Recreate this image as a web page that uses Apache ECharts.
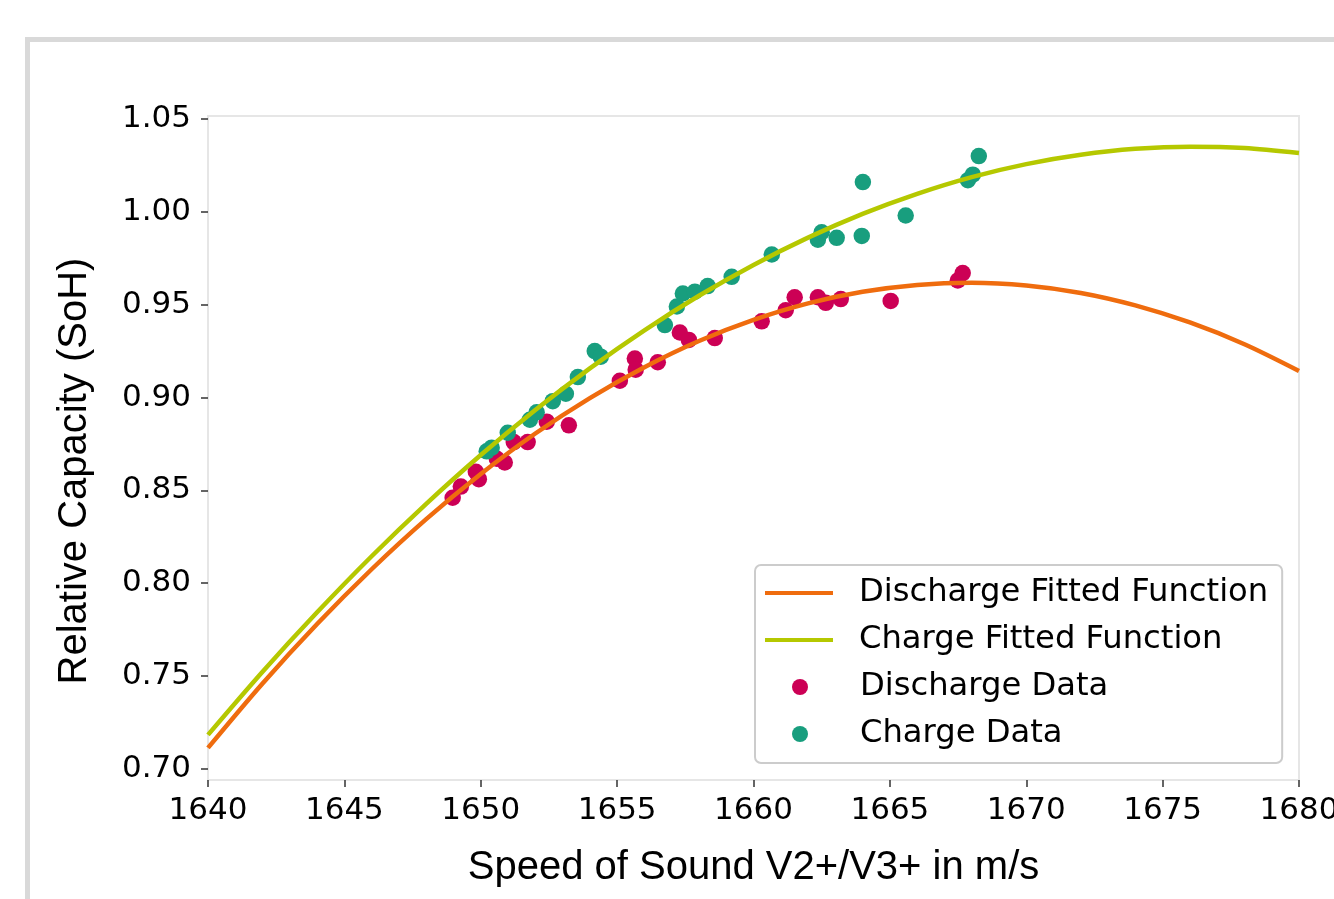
<!DOCTYPE html>
<html>
<head>
<meta charset="utf-8">
<script src="https://cdn.jsdelivr.net/npm/echarts@6/dist/echarts.min.js"></script>
<style>
html,body{margin:0;padding:0;background:#fff;}
#chart{width:1334px;height:899px;}
</style>
</head>
<body>
<div id="chart"></div>
<script>
// ---- data ----
var dischargeX = [1648.97,1649.27,1649.82,1649.93,1650.59,1650.88,1651.21,1651.72,1652.42,1653.23,1655.10,1655.65,1655.68,1656.49,1657.30,1657.63,1658.58,1660.30,1661.18,1661.51,1662.36,1662.65,1663.20,1665.03,1667.49,1667.67];
var dischargeY = [0.846,0.852,0.860,0.856,0.867,0.865,0.876,0.876,0.887,0.885,0.909,0.921,0.915,0.919,0.935,0.931,0.932,0.941,0.947,0.954,0.954,0.951,0.953,0.952,0.963,0.967];

var chargeX = [1650.22,1650.40,1650.99,1651.80,1652.05,1652.64,1653.12,1653.56,1654.18,1654.40,1656.75,1657.19,1657.41,1657.85,1658.32,1659.20,1660.67,1662.36,1662.50,1663.05,1663.97,1664.01,1665.58,1667.86,1668.04,1668.26];
var chargeY = [0.871,0.873,0.881,0.888,0.892,0.898,0.902,0.911,0.925,0.922,0.939,0.949,0.956,0.957,0.960,0.965,0.977,0.985,0.989,0.986,0.987,1.016,0.998,1.017,1.020,1.030];

var fitX = [1640,1642,1644,1646,1648,1650,1652,1654,1656,1658,1660,1662,1664,1666,1668,1670,1672,1674,1676,1678,1680];
var dischargeFitY = [0.7113,0.7460,0.7780,0.8075,0.8345,0.8588,0.8806,0.8997,0.9163,0.9304,0.9418,0.9507,0.9569,0.9606,0.9618,0.9603,0.9563,0.9496,0.9404,0.9287,0.9143];
var chargeFitY = [0.7183,0.7523,0.7843,0.8145,0.8427,0.8690,0.8933,0.9157,0.9362,0.9548,0.9714,0.9861,0.9989,1.0097,1.0187,1.0257,1.0307,1.0339,1.0351,1.0344,1.0317];

var xTickValues = [1640,1645,1650,1655,1660,1665,1670,1675,1680];
var yTickValues = [0.70,0.75,0.80,0.85,0.90,0.95,1.00,1.05];
var seriesNames = ['Discharge Fitted Function','Charge Fitted Function','Discharge Data','Charge Data'];

function zip(xs, ys){ return xs.map(function(x,i){ return [x, ys[i]]; }); }

var C_ORANGE = '#ef6c0e', C_LIME = '#b5c800', C_PINK = '#cc0055', C_TEAL = '#189e7e';
var tickFont = {fontFamily:'DejaVu Sans', fontSize:31, color:'#000'};
var nameFont = {fontFamily:'Liberation Sans', fontSize:40, color:'#000'};
var legendText = {fontFamily:'DejaVu Sans', fontSize:32.2, lineHeight:32, color:'#000', padding:[0,0,0,21]};

var chart = echarts.init(document.getElementById('chart'), null, {renderer:'canvas'});
chart.setOption({
  animation:false,
  backgroundColor:'#fff',
  graphic:[{
    type:'rect', silent:true, z:-10,
    shape:{x:27.5, y:39.5, width:1400, height:1000},
    style:{fill:'none', stroke:'#d9d9d9', lineWidth:5}
  }],
  grid:{left:208, right:35, top:116, bottom:119, containLabel:false, outerBoundsMode:'none',
        show:true, borderColor:'#e6e6e6', borderWidth:2, backgroundColor:'transparent'},
  xAxis:{
    type:'value', min:1640, max:1680, interval:5,
    name:'Speed of Sound V2+/V3+ in m/s', nameLocation:'middle', nameGap:68,
    nameTextStyle:nameFont,
    axisLine:{show:false},
    axisTick:{show:true, inside:false, length:7, lineStyle:{color:'#333', width:1.5}, customValues:xTickValues},
    axisLabel:Object.assign({margin:15, customValues:xTickValues, formatter:function(v){return String(v);}}, tickFont),
    splitLine:{show:false}
  },
  yAxis:{
    type:'value', min:0.694, max:1.0516,
    name:'Relative Capacity (SoH)', nameLocation:'middle', nameGap:113, nameRotate:90,
    nameTextStyle:Object.assign({padding:[0,46,0,0]}, nameFont),
    axisLine:{show:false},
    axisTick:{show:true, inside:false, length:7, lineStyle:{color:'#333', width:1.5}, customValues:yTickValues},
    axisLabel:Object.assign({margin:17, padding:[4,0,0,0], customValues:yTickValues, formatter:function(v){return v.toFixed(2);}}, tickFont),
    splitLine:{show:false}
  },
  legend:[{
    data:[{name:seriesNames[0], icon:'rect'},{name:seriesNames[1], icon:'rect'}],
    orient:'vertical', left:755, top:565,
    itemWidth:68, itemHeight:4, itemGap:15,
    padding:[12,14,107,10],
    backgroundColor:'#fff', borderColor:'#cccccc', borderWidth:2, borderRadius:6,
    itemStyle:{borderWidth:0},
    textStyle:legendText,
    selectedMode:false, z:10
  },{
    data:[{name:seriesNames[2], icon:'circle'},{name:seriesNames[3], icon:'circle'}],
    orient:'vertical', left:792, top:671,
    itemWidth:68, itemHeight:16, itemGap:15,
    padding:0,
    itemStyle:{borderWidth:0},
    textStyle:legendText,
    selectedMode:false, z:11
  }],
  series:[{
    name:seriesNames[0], type:'line', data:zip(fitX, dischargeFitY),
    smooth:0.3, showSymbol:false, symbol:'none', z:4,
    lineStyle:{color:C_ORANGE, width:4.5}, itemStyle:{color:C_ORANGE}
  },{
    name:seriesNames[1], type:'line', data:zip(fitX, chargeFitY),
    smooth:0.3, showSymbol:false, symbol:'none', z:4,
    lineStyle:{color:C_LIME, width:4.5}, itemStyle:{color:C_LIME}
  },{
    name:seriesNames[2], type:'scatter', data:zip(dischargeX, dischargeY),
    symbolSize:16.5, z:2, itemStyle:{color:C_PINK, opacity:1}
  },{
    name:seriesNames[3], type:'scatter', data:zip(chargeX, chargeY),
    symbolSize:16.5, z:3, itemStyle:{color:C_TEAL, opacity:1}
  }]
});
</script>
</body>
</html>
